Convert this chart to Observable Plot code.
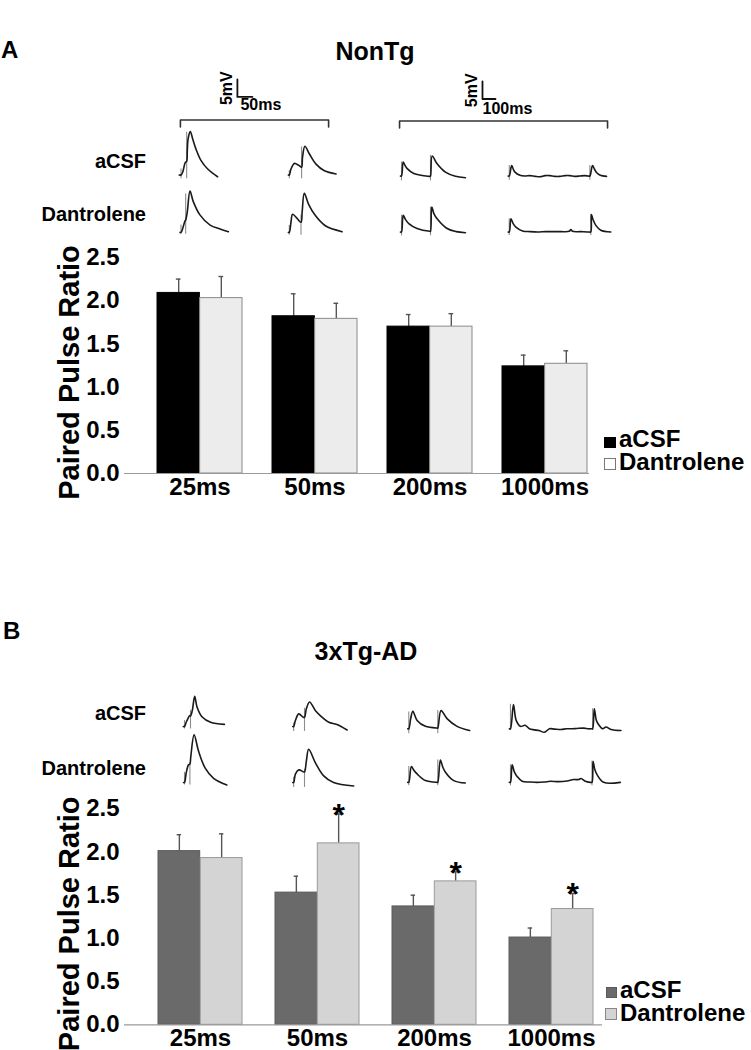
<!DOCTYPE html>
<html><head><meta charset="utf-8">
<script src="https://cdn.jsdelivr.net/npm/d3@7"></script>
<script src="https://cdn.jsdelivr.net/npm/@observablehq/plot@0.6"></script>
<style>
body{margin:0;background:#fff;}
#fig{position:relative;width:751px;height:1050px;overflow:hidden;background:#fff;font-family:'Liberation Sans',Arial,Helvetica,sans-serif;font-weight:bold;color:#000;}
.lbl{position:absolute;white-space:nowrap;line-height:0.9;}
.leg{position:absolute;white-space:pre;font-size:24px;line-height:23px;}
.layer{position:absolute;left:0;}
.layer svg{overflow:visible;background:transparent;}
.sq{position:absolute;box-sizing:border-box;}
</style></head><body><div id="fig"></div>
<script>
// ---------------- DATA ----------------
const intervals = ["25ms", "50ms", "200ms", "1000ms"];
const treatments = ["aCSF", "Dantrolene"];
const yTicks = [0, 0.5, 1.0, 1.5, 2.0, 2.5];

// Panel A: NonTg paired pulse ratio (mean, SEM)
const nonTgACSF = [2.09, 1.82, 1.70, 1.24];
const nonTgACSFErr = [0.16, 0.26, 0.14, 0.13];
const nonTgDant = [2.03, 1.79, 1.70, 1.27];
const nonTgDantErr = [0.25, 0.18, 0.15, 0.15];
const nonTgStars = [false, false, false, false];

// Panel B: 3xTg-AD paired pulse ratio (mean, SEM)
const tgACSF = [2.01, 1.53, 1.37, 1.01];
const tgACSFErr = [0.19, 0.19, 0.13, 0.11];
const tgDant = [1.93, 2.10, 1.66, 1.34];
const tgDantErr = [0.28, 0.34, 0.11, 0.18];
const tgStars = [false, true, true, true];

// Example traces: [time ms after 1st stimulus, mV above baseline]
const A_acsf_25 = [[-6,0],[0,0],[5.6,0.8],[14.4,3.6],[18.9,3.9],[21,7],[24,10.5],[31,12.4],[39,10.3],[50,7.4],[67,4.1],[89,1.7],[122,-0.5]];
const A_acsf_50 = [[-3,0],[0,0],[5.6,1.7],[16.7,3.3],[25,3.1],[33,2.7],[41,2.2],[44,5],[52,8.2],[67,6],[89,3.1],[117,1.2],[156,0.3]];
const A_dant_25 = [[-3,0],[0,0],[5.6,1.1],[13,3.2],[15.6,3.5],[21,5.9],[30,11.8],[41,8.8],[63,5],[97,2.1],[130,1],[158,0.2]];
const A_dant_50 = [[-3,0],[0,0],[5.6,2.9],[11,5.2],[26,4],[39,2.9],[43,6],[50,11.2],[64,8.1],[87,4.8],[120,1.9],[176,0.2]];
const A_acsf_200 = [[-8,0],[0,0],[13,4],[25,3.2],[44,2.1],[95,0.7],[150,0.2],[218,-0.1],[223,0],[236,5.7],[274,3.5],[338,1.1],[415,-0.1],[492,-0.5]];
const A_acsf_1000 = [[-8,0],[0,0],[18,3],[30,2],[44,1.1],[82,0.2],[120,0],[159,0.1],[200,-0.1],[236,-0.2],[275,0.1],[312,0.1],[350,-0.1],[389,-0.1],[430,0.1],[466,0.1],[505,-0.1],[543,0],[580,0.1],[607,0],[620,0],[640,3],[655,2],[671,1],[700,0.2],[748,-0.1]];
const A_dant_200 = [[-8,0],[0,0],[13,4.8],[30,3.6],[56,2.4],[120,1],[218,0.2],[223,0.2],[233,7.1],[250,5.2],[274,3.8],[351,1],[420,0.1],[492,-0.2]];
const A_dant_1000 = [[-8,0],[0,0],[13,3.8],[30,2.4],[51,1.4],[102,0.3],[160,0.1],[218,0],[280,0.1],[346,0.1],[400,0.1],[461,0.2],[474,0.7],[486,0.2],[550,0.1],[614,0],[627,0],[632,5],[645,3.5],[666,1.9],[704,0.5],[781,0]];

const B_acsf_25 = [[-4,0],[0,0],[5.6,1.2],[11,2.2],[17,3.1],[20,3],[26,4.6],[34,8.6],[42,5.5],[59,2.7],[87,1.2],[133,0.6]];
const B_acsf_50 = [[-3,0],[0,0],[5.6,1.7],[17,3.6],[31,2.7],[36,2.6],[42,5],[53,7],[72,4.6],[94,2.7],[117,1.2],[144,0.6],[178,-1]];
const B_dant_25 = [[-3,0],[0,0],[5.6,2.7],[13,5],[18,5.3],[21,7.4],[32,13.6],[47,8.9],[69,4.1],[97,1.2],[141,-0.7]];
const B_dant_50 = [[-3,0],[0,0],[5.6,2.4],[17,3.6],[31,3.1],[36,3],[42,6],[50,9.5],[72,5.7],[100,1.9],[133,0],[200,-1]];
const B_acsf_200 = [[-8,0],[0,0],[15,3],[31,5],[64,2.4],[128,0.7],[218,0.2],[223,0.2],[248,5.2],[294,2.9],[371,0.7],[468,-0.5]];
const B_acsf_1000 = [[-8,0],[0,0],[23,6.9],[44,2.4],[77,0.7],[113,1],[146,0],[184,-0.3],[220,-0.5],[261,-1],[300,0],[340,-0.1],[389,-0.2],[430,0],[468,0],[510,0.1],[563,0.2],[600,0],[625,0],[632,0],[645,5.7],[660,2.5],[671,1.6],[709,0],[735,0.5],[773,-0.2],[850,-0.5]];
const B_dant_200 = [[-8,0],[0,0],[20,4.5],[40,3.4],[64,2.4],[128,0.5],[218,0],[223,0],[243,6.4],[260,4.5],[282,2.9],[346,0.5],[435,-0.2]];
const B_dant_1000 = [[-8,0],[0,0],[13,5],[30,3],[51,1.7],[90,0.3],[150,0.1],[205,0],[260,0.1],[307,0.3],[370,0.2],[435,0.4],[486,0.8],[525,0.8],[543,1.1],[576,0.3],[614,0],[627,0],[635,6],[650,3.5],[666,2.2],[717,0],[845,0]];

// Stimulus artifacts: [time ms, low mV, high mV]
const A_acsf_25_stim = [[0,-1.1,1.7],[18.9,-1.1,12.2]];
const A_acsf_50_stim = [[0,-1.1,1.2],[41,-1.1,8]];
const A_dant_25_stim = [[0,-0.5,2.1],[15.6,-0.5,11]];
const A_dant_50_stim = [[0,-0.8,2],[39,-0.8,5]];
const A_acsf_200_stim = [[0,-1.4,4],[223,-1.4,5.9]];
const A_acsf_1000_stim = [[0,-1.2,3],[620,-1.2,3]];
const A_dant_200_stim = [[0,-1.1,4.8],[223,-1.1,7.1]];
const A_dant_1000_stim = [[0,-1,3.8],[627,-1,5]];
const B_acsf_25_stim = [[0,-0.7,1.7],[20,-0.7,4.6]];
const B_acsf_50_stim = [[0,-1.4,1],[36,-1.4,5.2]];
const B_dant_25_stim = [[0,-0.7,2.9],[18,-0.7,5.5]];
const B_dant_50_stim = [[0,-1.4,1.5],[36,-1.4,3.8]];
const B_acsf_200_stim = [[0,-1.4,4.8],[223,-1.4,5.2]];
const B_acsf_1000_stim = [[0,-0.5,7],[632,-0.5,5.7]];
const B_dant_200_stim = [[0,-1,4.5],[223,-1,6.4]];
const B_dant_1000_stim = [[0,-1,5],[627,-1,6]];

// Calibration bars (ms, mV) and brackets
const calLeft = {t: 188, v: 22.3, dt: 50, dv: 5};
const calRight = {t: 623, v: 22, dt: 100, dv: 5};
const bracketLeft = {t0: -2, t1: 492, v: 15.7, tick: 2};
const bracketRight = {t0: -15, t1: 1585, v: 15.7, tick: 2};

// ---------------- HELPERS ----------------
const fig = document.getElementById("fig");
const FONT = "'Liberation Sans', Arial, Helvetica, sans-serif";

function addText(str, x, baseline, size, anchor = "start") {
  const d = document.createElement("div");
  d.className = "lbl";
  d.textContent = str;
  d.style.fontSize = size + "px";
  d.style.left = x + "px";
  d.style.top = (baseline - 0.7965 * size) + "px";
  if (anchor === "end") d.style.transform = "translateX(-100%)";
  if (anchor === "middle") d.style.transform = "translateX(-50%)";
  fig.appendChild(d);
  return d;
}
function addLegendText(lines, x, firstBaseline) {
  const d = document.createElement("div");
  d.className = "leg";
  d.textContent = lines.join("\n");
  d.style.left = x + "px";
  d.style.top = (firstBaseline - 19.8) + "px";
  fig.appendChild(d);
}
function addLayer(node, top) {
  const d = document.createElement("div");
  d.className = "layer";
  d.style.top = top + "px";
  d.appendChild(node);
  fig.appendChild(d);
}
function addSquare(x, y, w, h, fill, stroke) {
  const d = document.createElement("div");
  d.className = "sq";
  Object.assign(d.style, {left: x + "px", top: y + "px", width: w + "px", height: h + "px", background: fill, border: `1px solid ${stroke}`});
  fig.appendChild(d);
}

const MV_PX = 3.5; // px per mV

function tracePlot({traces, pxPerMs, originX, baselineY, top, height, colOffsets, rowOffset, cal, bracket, calDx, calDy}) {
  const lineRows = [], stimRows = [];
  traces.forEach(({pts, stim, row, col}, k) => {
    pts.forEach(([t, v]) => lineRows.push({id: k, t: t + colOffsets[col], v: v - row * rowOffset}));
    stim.forEach(([t, lo, hi]) => stimRows.push({t: t + colOffsets[col], lo: lo - row * rowOffset, hi: hi - row * rowOffset}));
  });
  const marks = [
    Plot.ruleX(stimRows, {x: "t", y1: "lo", y2: "hi", stroke: "#8c8c8c", strokeWidth: 1.1}),
    Plot.line(lineRows, {x: "t", y: "v", z: "id", stroke: "#1a1a1a", strokeWidth: 1.6, curve: "catmull-rom"})
  ];
  if (cal) {
    marks.push(
      Plot.line([[cal.t, cal.v + cal.dv], [cal.t, cal.v], [cal.t + cal.dt, cal.v]], {stroke: "#111", strokeWidth: 1.8}),
      Plot.text([cal], {x: "t", y: d => d.v + d.dv / 2, text: d => d.dv + "mV", rotate: -90, dx: -11, fontSize: 16, fontWeight: "bold", textAnchor: "middle", lineAnchor: "middle"}),
      Plot.text([cal], {x: "t", y: "v", text: d => d.dt + "ms", dx: calDx, dy: calDy, fontSize: 16, fontWeight: "bold", textAnchor: "start", lineAnchor: "bottom"})
    );
  }
  if (bracket) {
    const b = bracket;
    marks.push(Plot.line([[b.t0, b.v - b.tick], [b.t0, b.v], [b.t1, b.v], [b.t1, b.v - b.tick]], {stroke: "#333", strokeWidth: 1.6}));
  }
  const svg = Plot.plot({
    width: 751, height, margin: 0,
    style: {fontFamily: FONT, background: "transparent", overflow: "visible"},
    x: {axis: null, domain: [(0 - originX) / pxPerMs, (751 - originX) / pxPerMs]},
    y: {axis: null, domain: [(baselineY - top - height) / MV_PX, (baselineY - top) / MV_PX]},
    marks
  });
  addLayer(svg, top);
}

function barChart({acsf, acsfErr, dant, dantErr, stars, fills, strokes, top, height, marginTop, marginBottom, marginRight, xRange, paddingInner}) {
  const rows = intervals.map((k, i) => ({interval: k, acsf: acsf[i], ae: acsfErr[i], dant: dant[i], de: dantErr[i], star: stars[i]}));
  const step = (xRange[1] - xRange[0]) / (intervals.length - paddingInner);
  const bw = step * (1 - paddingInner);
  const q = bw / 4;
  const capInset = bw / 2 - 2.5;
  const svg = Plot.plot({
    width: 751, height, marginTop, marginBottom, marginLeft: 124, marginRight,
    style: {fontFamily: FONT, fontWeight: "bold", fontSize: "24px", color: "#000", background: "transparent", overflow: "visible"},
    x: {type: "band", domain: intervals, range: xRange, paddingInner, paddingOuter: 0, axis: null},
    y: {domain: [0, 2.5], axis: null},
    marks: [
      Plot.ruleX(rows, {x: "interval", y1: "acsf", y2: d => d.acsf + d.ae, dx: -q, stroke: "#555", strokeWidth: 1.4}),
      Plot.ruleX(rows, {x: "interval", y1: "dant", y2: d => d.dant + d.de, dx: q, stroke: "#555", strokeWidth: 1.4}),
      Plot.tickY(rows, {x: "interval", y: d => d.acsf + d.ae, dx: -q, insetLeft: capInset, insetRight: capInset, stroke: "#555", strokeWidth: 1.4}),
      Plot.tickY(rows, {x: "interval", y: d => d.dant + d.de, dx: q, insetLeft: capInset, insetRight: capInset, stroke: "#555", strokeWidth: 1.4}),
      Plot.barY(rows, {x: "interval", y: "acsf", fill: fills[0], stroke: strokes[0], strokeWidth: 1, insetRight: bw / 2}),
      Plot.barY(rows, {x: "interval", y: "dant", fill: fills[1], stroke: strokes[1], strokeWidth: 1, insetLeft: bw / 2}),
      Plot.text(rows.filter(d => d.star), {x: "interval", y: d => d.dant + d.de, text: () => "*", dx: q, dy: 12, fontSize: 32, lineAnchor: "bottom", textAnchor: "middle"}),
      Plot.ruleY([0], {stroke: "#9a9a9a", strokeWidth: 1.2}),
      Plot.axisY({ticks: yTicks, tickFormat: d => d.toFixed(1), tickSize: 0, tickPadding: 5, line: true, stroke: "#9a9a9a", label: null, fontSize: 24}),
      Plot.axisX({tickSize: 0, tickPadding: 4, label: null, fontSize: 24}),
      Plot.text(["Paired Pulse Ratio"], {frameAnchor: "left", rotate: -90, dx: -55, dy: 7, fontSize: 29, fontWeight: "bold", textAnchor: "middle", lineAnchor: "middle"})
    ]
  });
  addLayer(svg, top);
}

// ---------------- PANEL A ----------------
addText("A", 1, 58, 24);
addText("NonTg", 375, 60, 25, "middle");
addText("aCSF", 146, 168, 20, "end");
addText("Dantrolene", 146, 221, 20, "end");

tracePlot({
  traces: [
    {pts: A_acsf_25, stim: A_acsf_25_stim, row: 0, col: 0},
    {pts: A_acsf_50, stim: A_acsf_50_stim, row: 0, col: 1},
    {pts: A_dant_25, stim: A_dant_25_stim, row: 1, col: 0},
    {pts: A_dant_50, stim: A_dant_50_stim, row: 1, col: 1}
  ],
  pxPerMs: 0.3, originX: 180.5, baselineY: 174.5, top: 60, height: 190,
  colOffsets: [0, 361], rowOffset: 16.4, cal: calLeft, bracket: bracketLeft, calDx: 3, calDy: 13
});
tracePlot({
  traces: [
    {pts: A_acsf_200, stim: A_acsf_200_stim, row: 0, col: 0},
    {pts: A_acsf_1000, stim: A_acsf_1000_stim, row: 0, col: 1},
    {pts: A_dant_200, stim: A_dant_200_stim, row: 1, col: 0},
    {pts: A_dant_1000, stim: A_dant_1000_stim, row: 1, col: 1}
  ],
  pxPerMs: 0.13, originX: 401, baselineY: 175.5, top: 60, height: 190,
  colOffsets: [0, 829], rowOffset: 16.0, cal: calRight, bracket: bracketRight, calDx: 0, calDy: 15
});

barChart({
  acsf: nonTgACSF, acsfErr: nonTgACSFErr, dant: nonTgDant, dantErr: nonTgDantErr, stars: nonTgStars,
  fills: ["#000000", "#ececec"], strokes: ["#000000", "#8a8a8a"],
  top: 247, height: 253, marginTop: 10, marginBottom: 27, marginRight: 162,
  xRange: [157, 588], paddingInner: 0.26
});

addSquare(604, 437, 12, 11, "#000", "#000");
addSquare(604, 458, 12, 12, "#fff", "#777");
addLegendText(treatments, 619, 447);

// ---------------- PANEL B ----------------
addText("B", 3, 639, 24);
addText("3xTg-AD", 366, 660, 25, "middle");
addText("aCSF", 146, 720, 20, "end");
addText("Dantrolene", 146, 775, 20, "end");

tracePlot({
  traces: [
    {pts: B_acsf_25, stim: B_acsf_25_stim, row: 0, col: 0},
    {pts: B_acsf_50, stim: B_acsf_50_stim, row: 0, col: 1},
    {pts: B_dant_25, stim: B_dant_25_stim, row: 1, col: 0},
    {pts: B_dant_50, stim: B_dant_50_stim, row: 1, col: 1}
  ],
  pxPerMs: 0.3, originX: 184, baselineY: 726, top: 660, height: 140,
  colOffsets: [0, 364], rowOffset: 16.0
});
tracePlot({
  traces: [
    {pts: B_acsf_200, stim: B_acsf_200_stim, row: 0, col: 0},
    {pts: B_acsf_1000, stim: B_acsf_1000_stim, row: 0, col: 1},
    {pts: B_dant_200, stim: B_dant_200_stim, row: 1, col: 0},
    {pts: B_dant_1000, stim: B_dant_1000_stim, row: 1, col: 1}
  ],
  pxPerMs: 0.13, originX: 408.3, baselineY: 728.3, top: 660, height: 140,
  colOffsets: [0, 782], rowOffset: 15.3
});

barChart({
  acsf: tgACSF, acsfErr: tgACSFErr, dant: tgDant, dantErr: tgDantErr, stars: tgStars,
  fills: ["#6a6a6a", "#d4d4d4"], strokes: ["#5a5a5a", "#9a9a9a"],
  top: 798, height: 252, marginTop: 10.3, marginBottom: 25.7, marginRight: 149,
  xRange: [157, 594], paddingInner: 0.28
});

addSquare(606, 987, 11, 11, "#6a6a6a", "#5a5a5a");
addSquare(605, 1008, 12, 12, "#d4d4d4", "#888");
addLegendText(treatments, 620, 998);
</script></body></html>
